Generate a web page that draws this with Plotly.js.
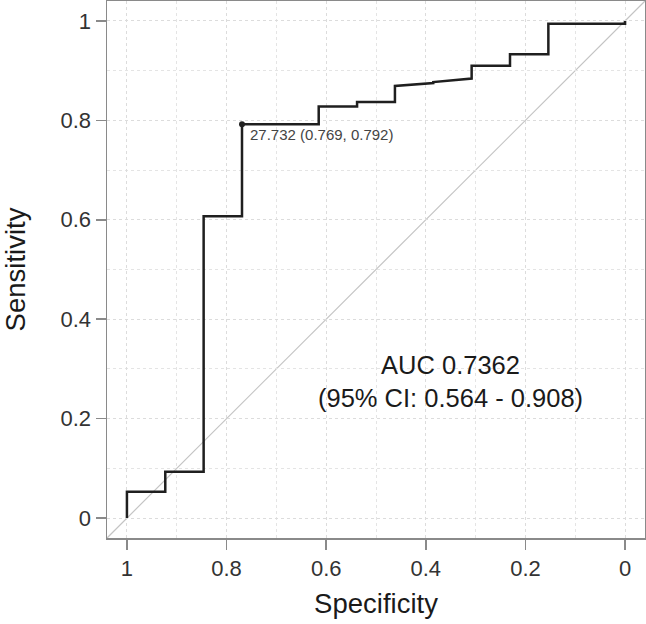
<!DOCTYPE html>
<html>
<head>
<meta charset="utf-8">
<script src="https://cdn.plot.ly/plotly-3.0.1.min.js"></script>
<style>html,body{margin:0;padding:0;background:#fff;}#chart{width:646px;height:624px;}</style>
</head>
<body>
<div id="chart"></div>
<script>
// ROC curve (specificity, sensitivity)
var specificity = [1.0, 1.0, 0.923, 0.923, 0.846, 0.846, 0.769, 0.769, 0.615, 0.615, 0.538, 0.538, 0.462, 0.462, 0.385, 0.385, 0.308, 0.308, 0.231, 0.231, 0.154, 0.154, 0.0, 0.0];
var sensitivity = [0.0, 0.053, 0.053, 0.093, 0.093, 0.607, 0.607, 0.792, 0.792, 0.828, 0.828, 0.837, 0.837, 0.869, 0.875, 0.877, 0.884, 0.910, 0.910, 0.933, 0.933, 0.994, 0.994, 1.0];
var bestSpec = [0.769];
var bestSens = [0.792];
var bestThreshold = "27.732";
var aucText = "AUC 0.7362";
var ciText = "(95% CI: 0.564 - 0.908)";
var tickVals = [1, 0.8, 0.6, 0.4, 0.2, 0];
var tickText = ["1", "0.8", "0.6", "0.4", "0.2", "0"];

var roc = {
  x: specificity, y: sensitivity, type: 'scatter', mode: 'lines',
  line: {color: '#1f1f1f', width: 2.5}, hoverinfo: 'skip', showlegend: false
};
var best = {
  x: bestSpec, y: bestSens, type: 'scatter', mode: 'markers',
  marker: {color: '#1f1f1f', size: 6}, showlegend: false
};

var axisCommon = {
  showline: true, mirror: true, linecolor: '#8a8a8a', linewidth: 1.5,
  ticks: 'outside', ticklen: 10, tickwidth: 1.5, tickcolor: '#8a8a8a',
  showgrid: true, gridcolor: '#dcdcdc', gridwidth: 1, griddash: 'dot',
  minor: {dtick: 0.1, tick0: 0, showgrid: true, gridcolor: '#e4e4e4', gridwidth: 1, griddash: 'dot', ticks: ''},
  zeroline: false,
  tickfont: {family: 'Liberation Sans, Arial, sans-serif', size: 22, color: '#333333'},
  tickmode: 'array', tickvals: tickVals, ticktext: tickText
};

var layout = {
  width: 646, height: 624,
  margin: {l: 107, r: 1, t: 1, b: 86},
  paper_bgcolor: '#ffffff', plot_bgcolor: '#ffffff',
  font: {family: 'Liberation Sans, Arial, sans-serif', color: '#1a1a1a'},
  xaxis: Object.assign({}, axisCommon, {
    range: [1.04, -0.04],
    title: {text: 'Specificity', font: {size: 27.5, color: '#1a1a1a'}, standoff: 14}
  }),
  yaxis: Object.assign({}, axisCommon, {
    range: [-0.04, 1.04],
    title: {text: 'Sensitivity', font: {size: 27.5, color: '#1a1a1a'}, standoff: 28}
  }),
  shapes: [{
    type: 'line', xref: 'paper', yref: 'paper', x0: 0, y0: 0, x1: 1, y1: 1,
    line: {color: '#c4c4c4', width: 1.2}, layer: 'below'
  }],
  annotations: [
    {x: bestSpec[0], y: bestSens[0], xref: 'x', yref: 'y', xanchor: 'left', yanchor: 'middle',
     xshift: 6, yshift: -10, showarrow: false,
     text: bestThreshold + ' (' + bestSpec[0].toFixed(3) + ', ' + bestSens[0].toFixed(3) + ')',
     font: {size: 15, color: '#444444'}},
    {x: 0.351, y: 0.274, xref: 'x', yref: 'y', xanchor: 'center', yanchor: 'middle',
     showarrow: false, align: 'center',
     text: aucText + '<br>' + ciText,
     font: {size: 25.5, color: '#1a1a1a'}}
  ]
};

Plotly.newPlot('chart', [roc, best], layout, {displayModeBar: false, staticPlot: true});
</script>
</body>
</html>
